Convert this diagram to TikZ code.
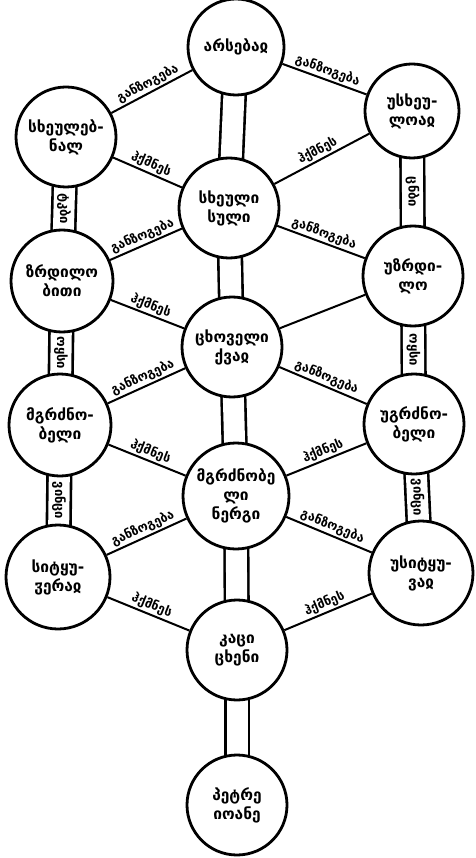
\documentclass[tikz,border=0pt]{standalone}
\usepackage{fontspec}
\newfontfamily\geo{DejaVu Sans}
\newfontfamily\geob{DejaVu Sans Bold}
\pgfdeclarelayer{bg}
\pgfsetlayers{bg,main}
\tikzset{
  sef/.style={circle, draw, line width=2.8pt, fill=white, minimum size=#1, inner sep=0pt, align=center,
    font=\geob\fontsize{15.5}{19}\selectfont},
  link/.style={line width=2pt},
  bar/.style={double distance=21pt, line width=2.6pt},
  lab/.style={sloped, above, inner sep=1.5pt, font=\geob\fontsize{12.5}{13}\selectfont},
  barlab/.style={rotate=-90, inner sep=0pt, font=\geob\fontsize{13}{13}\selectfont},
}
\begin{document}
\begin{tikzpicture}[x=1pt,y=-1pt]
\useasboundingbox (0,0) rectangle (475,858);
% nodes
\node[sef=96pt]  (T)  at (236,47)  {არსებაჲ};
\node[sef=100pt] (L1) at (66,137)  {სხეულებ-\\ნალ};
\node[sef=94pt]  (R1) at (412,111) {უსხეუ-\\ლოაჲ};
\node[sef=100pt] (C2) at (229,208) {სხეული\\სული};
\node[sef=102pt] (L2) at (62,281)  {ზრდილო\\ბითი};
\node[sef=100pt] (R2) at (413,276) {უზრდი-\\ლო};
\node[sef=100pt] (C3) at (232,347) {ცხოველი\\ქვაჲ};
\node[sef=102pt] (L3) at (60,425)  {მგრძნო-\\ბელი};
\node[sef=100pt] (R3) at (414,424) {უგრძნო-\\ბელი};
\node[sef=106pt] (C4) at (236,496) {მგრძნობე\\ლი\\ნერგი};
\node[sef=104pt] (L4) at (58,577)  {სიტყუ-\\ჳერაჲ};
\node[sef=104pt] (R4) at (421,573) {უსიტყუ-\\ვაჲ};
\node[sef=100pt] (C5) at (237,650) {კაცი\\ცხენი};
\node[sef=100pt] (B)  at (237,805) {პეტრე\\იოანე};
% bars
\begin{pgfonlayer}{bg}
\draw[bar] (T.center) -- (C2.center);
\draw[bar] (C2.center) -- (C3.center);
\draw[bar] (C3.center) -- (C4.center);
\draw[bar] (C4.center) -- (C5.center);
\draw[bar] (C5.center) -- (B.center);
\draw[bar] (L1.center) -- (L2.center);
\draw[bar] (L2.center) -- (L3.center);
\draw[bar] (L3.center) -- (L4.center);
\draw[bar] (R1.center) -- (R2.center);
\draw[bar] (R2.center) -- (R3.center);
\draw[bar] (R3.center) -- (R4.center);
\end{pgfonlayer}
\path (L1) -- node[barlab]{ტკბი} (L2);
\path (L2) -- node[barlab]{ოყსი} (L3);
\path (L3) -- node[barlab]{ვინცი} (L4);
\path (R1) -- node[barlab]{ცნბი} (R2);
\path (R2) -- node[barlab]{ოყსი} (R3);
\path (R3) -- node[barlab]{ვინცი} (R4);
% diagonals: division
\draw[link] (T)  -- node[lab]{განზოგება} (L1);
\draw[link] (T)  -- node[lab]{განზოგება} (R1);
\draw[link] (C2) -- node[lab]{განზოგება} (L2);
\draw[link] (C2) -- node[lab]{განზოგება} (R2);
\draw[link] (C3) -- node[lab]{განზოგება} (L3);
\draw[link] (C3) -- node[lab]{განზოგება} (R3);
\draw[link] (C4) -- node[lab]{განზოგება} (L4);
\draw[link] (C4) -- node[lab]{განზოგება} (R4);
% diagonals: making
\draw[link] (L1) -- node[lab]{ჰქმნეს} (C2);
\draw[link] (R1) -- node[lab]{ჰქმნეს} (C2);
\draw[link] (L2) -- node[lab]{ჰქმნეს} (C3);
\draw[link] (R2) -- (C3);
\draw[link] (L3) -- node[lab]{ჰქმნეს} (C4);
\draw[link] (R3) -- node[lab]{ჰქმნეს} (C4);
\draw[link] (L4) -- node[lab]{ჰქმნეს} (C5);
\draw[link] (R4) -- node[lab]{ჰქმნეს} (C5);
\end{tikzpicture}
\end{document}
